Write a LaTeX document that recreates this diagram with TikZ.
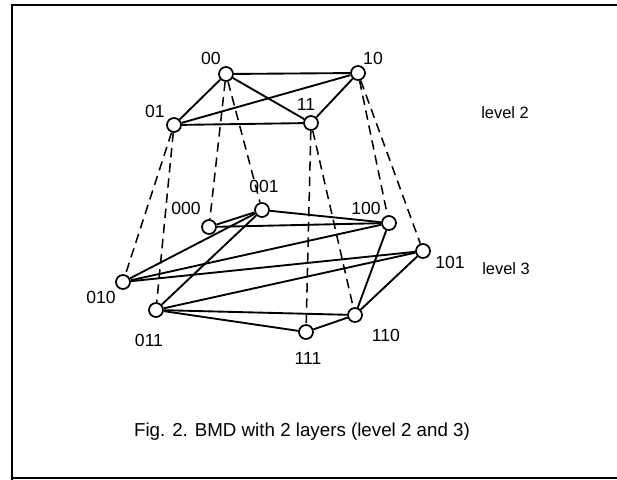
\documentclass[tikz,border=0pt]{standalone}
\usepackage{fontspec}
\setmainfont{Liberation Sans}
\begin{document}
\begin{tikzpicture}[x=0.03cm,y=-0.03cm,
    vertex/.style={circle,draw,line width=1.5pt,fill=white,minimum size=0.42cm,inner sep=0pt},
    link/.style={line width=1.6pt},
    proj/.style={line width=1.3pt,dash pattern=on 8pt off 5pt},
    lbl/.style={font=\fontsize{15}{17}\selectfont,inner sep=1pt}]
    \useasboundingbox (0,0) rectangle (617,480);
    % Rahmen
    \draw[line width=1.6pt] (617,5) -- (12,5) -- (12,480);
    \draw[line width=1.2pt] (12,478) -- (617,478);

    % Knoten level 2
    \node[vertex] (n00) at (226,74) {};
    \node[vertex] (n10) at (358,73) {};
    \node[vertex] (n01) at (174,125) {};
    \node[vertex] (n11) at (311,123) {};

    % Knoten level 3
    \node[vertex] (n000) at (209,227) {};
    \node[vertex] (n001) at (262,210) {};
    \node[vertex] (n100) at (389,223) {};
    \node[vertex] (n101) at (423,251) {};
    \node[vertex] (n010) at (123,282) {};
    \node[vertex] (n011) at (156,310) {};
    \node[vertex] (n111) at (306,332) {};
    \node[vertex] (n110) at (355,315) {};

    % Beschriftungen
    \node[lbl] (t00) at (211,58) {00};
    \node[lbl] (t10) at (373,58) {10};
    \node[lbl] (t01) at (155,111) {01};
    \node[lbl] (t11) at (306,104) {11};
    \node[lbl] (t001) at (264,186) {001};
    \node[lbl] (t000) at (186,208) {000};
    \node[lbl] (t100) at (366,208) {100};
    \node[lbl] (t101) at (450,262) {101};
    \node[lbl] (t010) at (101,297) {010};
    \node[lbl] (t011) at (149,340) {011};
    \node[lbl] (t111) at (308,358) {111};
    \node[lbl] (t110) at (386,335) {110};
    \node[lbl,font=\fontsize{14}{16}\selectfont] (lev2) at (505,113) {level 2};
    \node[lbl,font=\fontsize{14}{16}\selectfont] (lev3) at (506,269) {level 3};
    \node[lbl,font=\fontsize{16}{18}\selectfont] (cap) at (302,432) {Fig. 2. BMD with 2 layers (level 2 and 3)};

    % Kanten level 2
    \draw[link] (n00) -- (n10);
    \draw[link] (n00) -- (n01);
    \draw[link] (n00) -- (n11);
    \draw[link] (n01) -- (n10);
    \draw[link] (n01) -- (n11);
    \draw[link] (n11) -- (n10);

    % Kanten level 3
    \draw[link] (n000) -- (n001);
    \draw[link] (n000) -- (n100);
    \draw[link] (n001) -- (n100);
    \draw[link] (n010) -- (n001);
    \draw[link] (n011) -- (n001);
    \draw[link] (n010) -- (n100);
    \draw[link] (n010) -- (n101);
    \draw[link] (n011) -- (n101);
    \draw[link] (n011) -- (n110);
    \draw[link] (n011) -- (n111);
    \draw[link] (n111) -- (n110);
    \draw[link] (n100) -- (n110);
    \draw[link] (n101) -- (n110);

    % Projektionen
    \draw[proj] (n01) -- (n010);
    \draw[proj] (n01) -- (n011);
    \draw[proj] (n00) -- (n000);
    \draw[proj] (n00) -- (n001);
    \draw[proj] (n11) -- (n111);
    \draw[proj] (n11) -- (n110);
    \draw[proj] (n10) -- (n100);
    \draw[proj] (n10) -- (n101);
\end{tikzpicture}
\end{document}
